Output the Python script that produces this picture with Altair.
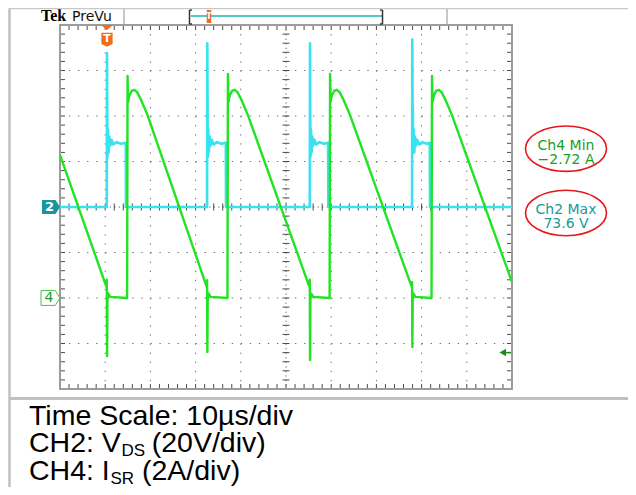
import altair as alt
import numpy as np
import pandas as pd

W, H = 452, 364  # scope graticule (10 x 8 divisions)

# ---------------- values ----------------
time_domain_us = [0, 100]      # 10 us/div x 10 div
ch2_domain_v = [-80, 80]       # CH2 20 V/div, ground on centre line
ch4_domain_a = [-4, 12]        # CH4 2 A/div, ground 2 div below centre
div_domain = [-4, 4]

ch2_time_us = [0, 10.35, 10.40, 10.45, 10.50, 10.62, 10.75, 10.90, 11.10, 11.40, 11.80, 12.50, 13.50, 14.55, 14.60,
               32.54, 32.59, 32.64, 32.69, 32.81, 32.94, 33.09, 33.29, 33.59, 33.99, 34.70, 35.70, 36.68, 36.73,
               55.26, 55.31, 55.36, 55.41, 55.53, 55.66, 55.81, 56.01, 56.31, 56.71, 57.40, 58.40, 59.31, 59.36,
               77.89, 77.94, 77.98, 78.02, 78.06, 78.14, 78.26, 78.39, 78.54, 78.74, 79.04, 79.44, 80.20, 81.10,
               81.81, 81.86, 100]
ch2_volts = [0, 0, 67.7, 45, 22, 34, 24, 31, 27, 29.5, 27.5, 28.5, 27.8, 28.2, 0,
             0, 72.0, 48.5, 22, 34, 24, 31, 27, 29.5, 27.5, 28.5, 27.8, 28.2, 0,
             0, 72.0, 46, 22, 34, 24, 31, 27, 29.5, 27.5, 28.5, 27.8, 28.2, 0,
             0, 73.6, 54.5, 30, 44, 24, 34, 24, 31, 27, 29.5, 27.5, 28.5, 27.8,
             28.2, 0, 0]

ch4_time_us = [0, 10.25, 10.35, 10.42, 10.50, 10.67, 11.10,
               14.85, 14.95, 15.05, 15.35, 15.85, 16.45, 17.05, 17.85, 19.35, 32.44, 32.54, 32.60, 32.68, 32.85, 33.30,
               37.05, 37.15, 37.25, 37.55, 38.05, 38.65, 39.25, 40.05, 41.55, 55.16, 55.26, 55.32, 55.40, 55.57, 56.00,
               59.65, 59.75, 59.85, 60.15, 60.65, 61.25, 61.85, 62.65, 64.15, 77.79, 77.89, 77.95, 78.03, 78.20, 78.60,
               82.20, 82.30, 82.40, 82.70, 83.20, 83.80, 84.40, 85.20, 86.70, 100]
ch4_amps = [6.29, 0.5, 0.8, -2.55, -0.1, 0.2, 0.05,
            0, 9.76, 8.6, 8.9, 9.1, 9.15, 9.05, 8.75, 8.05, 0.5, 0.78, -2.37, -0.1, 0.2, 0.05,
            0, 9.85, 8.6, 8.9, 9.1, 9.15, 9.05, 8.75, 8.05, 0.5, 0.8, -2.72, -0.1, 0.2, 0.05,
            0, 9.85, 8.6, 8.9, 9.1, 9.15, 9.05, 8.75, 8.05, 0.5, 0.7, -2.15, -0.1, 0.2, 0.05,
            0, 9.76, 8.6, 8.9, 9.1, 9.15, 9.05, 8.75, 8.05, 0.7]

trigger_time_us = 10.40
trigger_level_a = -2.4
ch2_ground_v = 0
ch4_ground_a = 0

ch4_meas = ["Ch4 Min", "\u22122.72 A"]
ch2_meas = ["Ch2 Max", "73.6 V"]
caption_1 = "Time Scale: 10\u00b5s/div"
caption_2 = ["CH2: V", "DS", "(20V/div)"]
caption_3 = ["CH4: I", "SR", "(2A/div)"]

# graticule structure
major_time_us = [10, 20, 30, 40, 60, 70, 80, 90]
major_div = [-3, -2, -1, 1, 2, 3]
minor_time_us = [round(v, 3) for v in np.arange(0, 100.001, 2)]
minor_div = [round(v, 3) for v in np.arange(-4, 4.001, 0.2)]

# ---------------- scales ----------------
xs = alt.Scale(domain=time_domain_us, nice=False, zero=False)
s2 = alt.Scale(domain=ch2_domain_v, nice=False, zero=False)
s4 = alt.Scale(domain=ch4_domain_a, nice=False, zero=False)
sd = alt.Scale(domain=div_domain, nice=False, zero=False)


def X(f):
    return alt.X(f, scale=xs, axis=None)


def one():
    return alt.Chart(pd.DataFrame({"a": [0]}))


GRID = "#6a6a6a"
layers = []

# dotted graticule
layers.append(alt.Chart(pd.DataFrame({"d": major_div})).mark_rule(
    color=GRID, strokeWidth=1, strokeDash=[1.3, 7.74]).encode(
    y=alt.Y("d:Q", scale=sd, axis=None), x=alt.value(0), x2=alt.value(W)))
layers.append(alt.Chart(pd.DataFrame({"t": major_time_us})).mark_rule(
    color=GRID, strokeWidth=1, strokeDash=[1.3, 7.8]).encode(
    x=X("t:Q"), y=alt.value(0), y2=alt.value(H)))
layers.append(one().mark_rule(color=GRID, strokeWidth=1, strokeDash=[1.3, 3.22]).encode(
    y=alt.value(H / 2), x=alt.value(0), x2=alt.value(W)))
layers.append(one().mark_rule(color=GRID, strokeWidth=1, strokeDash=[1.3, 3.25]).encode(
    x=alt.value(W / 2), y=alt.value(0), y2=alt.value(H)))

# minor ticks on centre lines and edges
xt = alt.Chart(pd.DataFrame({"t": minor_time_us}))
yt = alt.Chart(pd.DataFrame({"d": minor_div}))
for yc, sz in [(2.5, 5), (H - 2.5, 5), (H / 2, 7)]:
    layers.append(xt.mark_tick(orient="vertical", size=sz, thickness=1, color="#4a4a4a", opacity=1).encode(
        x=X("t:Q"), y=alt.value(yc)))
for xc, sz in [(2.5, 5), (W - 2.5, 5), (W / 2, 7)]:
    layers.append(yt.mark_tick(orient="horizontal", size=sz, thickness=1, color="#4a4a4a", opacity=1).encode(
        y=alt.Y("d:Q", scale=sd, axis=None), x=alt.value(xc)))

# graticule frame
layers.append(one().mark_rect(fillOpacity=0, stroke="#9c9c9c", strokeWidth=2).encode(
    x=alt.value(0), x2=alt.value(W), y=alt.value(0), y2=alt.value(H)))

# traces
ch2_df = pd.DataFrame({"t": ch2_time_us, "v": ch2_volts, "i": range(len(ch2_time_us))})
ch4_df = pd.DataFrame({"t": ch4_time_us, "a": ch4_amps, "i": range(len(ch4_time_us))})
layers.append(alt.Chart(ch2_df).mark_line(color="#38e2f0", strokeWidth=2.6, strokeJoin="round").encode(
    x=X("t:Q"), y=alt.Y("v:Q", scale=s2, axis=None), order="i:Q"))
layers.append(alt.Chart(ch4_df).mark_line(color="#22e322", strokeWidth=2.4, strokeJoin="round").encode(
    x=X("t:Q"), y=alt.Y("a:Q", scale=s4, axis=None), order="i:Q"))

# channel ground markers
tag = "M -1 -0.78 L 0.5 -0.78 L 1 0 L 0.5 0.78 L -1 0.78 Z"
g2 = alt.Chart(pd.DataFrame({"v": [ch2_ground_v]}))
g4 = alt.Chart(pd.DataFrame({"a": [ch4_ground_a]}))
layers.append(g2.mark_point(shape=tag, size=324, filled=True, color="#17979b", opacity=1).encode(
    x=alt.value(-9), y=alt.Y("v:Q", scale=s2, axis=None)))
layers.append(g2.mark_text(text="2", color="white", fontSize=13, fontWeight="bold", font="DejaVu Sans",
                           baseline="middle", align="center").encode(
    x=alt.value(-10.5), y=alt.Y("v:Q", scale=s2, axis=None)))
layers.append(g4.mark_point(shape=tag, size=361, filled=False, color="#46c246", strokeWidth=1, opacity=1).encode(
    x=alt.value(-9.5), y=alt.Y("a:Q", scale=s4, axis=None)))
layers.append(g4.mark_text(text="4", color="#1f9f1f", fontSize=14, font="DejaVu Sans",
                           baseline="middle", align="center").encode(
    x=alt.value(-11), y=alt.Y("a:Q", scale=s4, axis=None)))

# trigger position marker
trig = alt.Chart(pd.DataFrame({"t": [trigger_time_us]}))
ORANGE = "#f26a1c"
layers.append(trig.mark_point(shape="M -1 -0.4 L 1 -0.4 L 0 0.4 Z", size=144, filled=True,
                              color=ORANGE, opacity=1).encode(x=X("t:Q"), y=alt.value(2.5)))
layers.append(trig.mark_point(shape="M -0.8 -1 L 0.8 -1 L 0.8 0.6 L 0 1 L -0.8 0.6 Z", size=196, filled=True,
                              color=ORANGE, opacity=1).encode(x=X("t:Q"), y=alt.value(14.7)))
layers.append(trig.mark_text(text="T", color="white", fontSize=11, fontWeight="bold", font="DejaVu Sans",
                             baseline="middle", align="center").encode(x=X("t:Q"), y=alt.value(14)))

# trigger level arrow (CH4)
lvl = alt.Chart(pd.DataFrame({"a": [trigger_level_a]}))
layers.append(lvl.mark_point(shape="M -1 0 L 0.3 -0.75 L 0.3 0.75 Z", size=100, filled=True,
                             color="#1a8c1a", opacity=1).encode(
    x=alt.value(444.5), y=alt.Y("a:Q", scale=s4, axis=None)))
layers.append(lvl.mark_rule(color="#1a8c1a", strokeWidth=1.5).encode(
    x=alt.value(446), x2=alt.value(451), y=alt.Y("a:Q", scale=s4, axis=None)))

# measurement callouts
ell = ("M -1 0 C -1 -0.3093 -0.5523 -0.56 0 -0.56 C 0.5523 -0.56 1 -0.3093 1 0 "
       "C 1 0.3093 0.5523 0.56 0 0.56 C -0.5523 0.56 -1 0.3093 -1 0 Z")
for cy in [123.7, 188]:
    layers.append(one().mark_point(shape=ell, size=6561, filled=False, color="#e8171b", strokeWidth=1.6,
                                   opacity=1).encode(x=alt.value(506), y=alt.value(cy)))
for txt, y, col in [(ch4_meas[0], 125, "#1a9e1a"), (ch4_meas[1], 139, "#1a9e1a"),
                    (ch2_meas[0], 189, "#18999b"), (ch2_meas[1], 202.7, "#18999b")]:
    layers.append(one().mark_text(text=txt, color=col, fontSize=14, font="DejaVu Sans", align="center",
                                  baseline="alphabetic").encode(x=alt.value(506), y=alt.value(y)))

# header (Tek PreVu + record bar)
layers.append(one().mark_text(text="Tek", fontSize=16, fontWeight="bold", font="Liberation Serif",
                              color="black", align="left", baseline="alphabetic").encode(
    x=alt.value(-19), y=alt.value(-4)))
layers.append(one().mark_text(text="PreVu", fontSize=14, font="DejaVu Sans", color="#111",
                              align="left", baseline="alphabetic").encode(x=alt.value(12), y=alt.value(-4)))
for sx in [64, 387]:
    layers.append(one().mark_rule(color="#b4b4b4", strokeWidth=1.5).encode(
        x=alt.value(sx), y=alt.value(-16.5), y2=alt.value(-1)))
layers.append(one().mark_rule(color="#1fb3b3", strokeWidth=1.5).encode(
    x=alt.value(131), x2=alt.value(322), y=alt.value(-9)))
for bx, dx in [(129.5, 2.5), (322.5, -2.5)]:
    layers.append(one().mark_rule(color="#333", strokeWidth=1.5).encode(
        x=alt.value(bx), y=alt.value(-15), y2=alt.value(-1)))
    for by in [-15, -1]:
        layers.append(one().mark_rule(color="#333", strokeWidth=1.5).encode(
            x=alt.value(bx), x2=alt.value(bx + dx), y=alt.value(by)))
layers.append(one().mark_point(shape="M -0.35 -1 L 0.35 -1 L 0.35 1 L -0.35 1 Z", size=169, filled=True,
                               color=ORANGE, opacity=1).encode(x=alt.value(149), y=alt.value(-8.5)))
layers.append(one().mark_text(text="T", color="white", fontSize=8, fontWeight="bold", font="DejaVu Sans",
                              align="center", baseline="middle").encode(x=alt.value(149), y=alt.value(-8)))

# page frame lines
layers.append(one().mark_rule(color="#c8c8c8", strokeWidth=1.5).encode(
    x=alt.value(-51), x2=alt.value(568), y=alt.value(-16.5)))
layers.append(one().mark_rule(color="#c0c0c0", strokeWidth=2.5).encode(
    x=alt.value(-50.5), y=alt.value(-16.5), y2=alt.value(480)))
layers.append(one().mark_rule(color="#c0c0c0", strokeWidth=3).encode(
    x=alt.value(-51), x2=alt.value(568), y=alt.value(373.5)))

# caption
FS, SUB = 28.5, 17
cap = dict(font="Liberation Sans", color="black", align="left", baseline="alphabetic")
layers.append(one().mark_text(text=caption_1, fontSize=FS, **cap).encode(x=alt.value(-31), y=alt.value(400)))
layers.append(one().mark_text(text=caption_2[0], fontSize=FS, **cap).encode(x=alt.value(-31), y=alt.value(427)))
layers.append(one().mark_text(text=caption_2[1], fontSize=SUB, **cap).encode(x=alt.value(61.5), y=alt.value(431)))
layers.append(one().mark_text(text=caption_2[2], fontSize=FS, **cap).encode(x=alt.value(91.7), y=alt.value(427)))
layers.append(one().mark_text(text=caption_3[0], fontSize=FS, **cap).encode(x=alt.value(-31), y=alt.value(455)))
layers.append(one().mark_text(text=caption_3[1], fontSize=SUB, **cap).encode(x=alt.value(50.5), y=alt.value(459)))
layers.append(one().mark_text(text=caption_3[2], fontSize=FS, **cap).encode(x=alt.value(82), y=alt.value(455)))

chart = alt.layer(*layers).resolve_scale(y="independent").properties(
    width=W, height=H,
    padding={"left": 52, "top": 17, "right": 116, "bottom": 98},
    autosize=alt.AutoSizeParams(type="none"),
    background="white",
).configure_view(stroke=None)

chart.save("out.html", embed_options={"renderer": "svg", "actions": False})
